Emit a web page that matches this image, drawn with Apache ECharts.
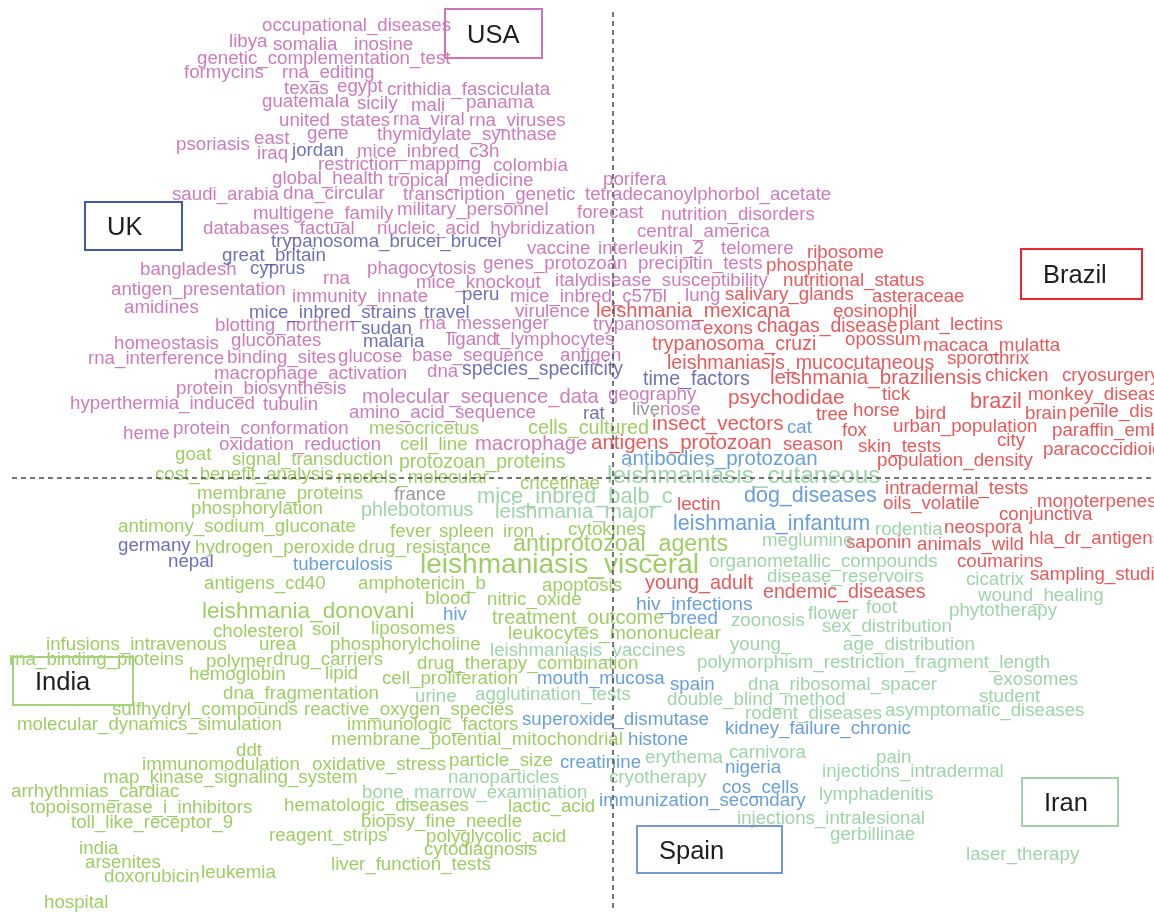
<!DOCTYPE html>
<html>
<head>
<meta charset="utf-8">
<script src="https://cdn.jsdelivr.net/npm/echarts@6/dist/echarts.min.js"></script>
<style>html,body{margin:0;padding:0;background:#fff}#c{width:1154px;height:912px}</style>
</head>
<body>
<div id="c"></div>
<script>
// ---- map space ----
const xRange = [0, 1154];
const yRange = [0, 912];

// ---- words: [term, x, y, relative weight] ----
const usaTerms = [
["occupational_diseases",262,24],["libya",229,40],["somalia",273,43],["inosine",354,43],
["genetic_complementation_test",197,57],["formycins",184,71],["rna_editing",282,71],
["texas",284,87],["egypt",337,85],["crithidia_fasciculata",387,88],["guatemala",262,100],
["sicily",357,102],["mali",411,104],["panama",466,101],["united_states",279,119],
["rna_viral",393,118],["rna_viruses",469,119],["east",254,137],["gene",307,132],
["thymidylate_synthase",377,133],["psoriasis",176,143],["iraq",257,152],["mice_inbred_c3h",357,150],
["restriction_mapping",318,163],["colombia",493,164],["global_health",272,177],
["tropical_medicine",388,179],["porifera",603,178],["saudi_arabia",172,193],["dna_circular",283,192],
["transcription_genetic",403,193],["tetradecanoylphorbol_acetate",585,193],["multigene_family",253,212],
["military_personnel",397,208],["forecast",577,211],["nutrition_disorders",661,213],
["databases_factual",203,227],["nucleic_acid_hybridization",377,227],["central_america",637,230],
["vaccine",527,247],["interleukin_2",598,247],["telomere",721,247],["bangladesh",140,268],
["rna",323,277],["phagocytosis",367,267],["genes_protozoan",483,262],["precipitin_tests",638,262],
["antigen_presentation",111,288],["immunity_innate",292,295],["mice_knockout",416,281],
["italy",555,279],["disease_susceptibility",587,279],["amidines",124,306],["mice_inbred_c57bl",510,295],
["lung",685,294],["virulence",515,310],["blotting_northern",215,324],["rna_messenger",419,322],
["trypanosoma",593,323],["homeostasis",114,342],["gluconates",231,339],["ligand",447,338],
["t_lymphocytes",495,338],["rna_interference",88,357],["binding_sites",227,356],["glucose",338,355],
["base_sequence",412,354],["antigen",560,354],["macrophage_activation",214,372],["dna",427,370],
["protein_biosynthesis",176,387],["hyperthermia_induced",70,402],["tubulin",263,403],
["molecular_sequence_data",362,396,1.08],["geography",608,393],["amino_acid_sequence",349,411],
["nose",660,408],["heme",123,432],["protein_conformation",173,427],["oxidation_reduction",219,443],
["macrophage",475,443,1.08]
];
const ukTerms = [
["jordan",292,149],["trypanosoma_brucei_brucei",271,240],["great_britain",222,254],["cyprus",250,267],
["mice_inbred_strains",249,311],["travel",424,311],["peru",462,293],["sudan",361,327],["malaria",363,340],
["species_specificity",462,368,1.04],["time_factors",643,378,1.05],["rat",583,412],
["germany",118,544],["nepal",168,560]
];
const brazilTerms = [
["ribosome",807,251],["phosphate",766,264],["nutritional_status",783,279],["salivary_glands",725,293],
["asteraceae",872,295],["leishmania_mexicana",596,310,1.08],["eosinophil",833,310],["exons",703,327],
["chagas_disease",757,325,1.04],["plant_lectins",899,323],["trypanosoma_cruzi",652,343,1.04],
["opossum",845,338],["macaca_mulatta",923,344],["leishmaniasis_mucocutaneous",667,362,1.05],
["sporothrix",947,357],["leishmania_braziliensis",770,377,1.1],["chicken",985,374],["cryosurgery",1062,374],
["psychodidae",728,397,1.11],["tick",882,393],["brazil",970,401,1.16],["monkey_diseases",1028,393],
["tree",816,413],["horse",853,409],["bird",915,412],["brain",1025,412],["penile_diseases",1069,410],
["insect_vectors",652,423,1.1],["fox",842,429],["urban_population",893,425],["paraffin_embedding",1052,429],
["antigens_protozoan",591,442,1.1],["season",783,443],["skin_tests",858,445],["city",997,439],
["paracoccidioidomycosis",1043,448],["population_density",877,459],["lectin",677,503],
["intradermal_tests",885,487],["oils_volatile",883,502],["monoterpenes",1037,500],["conjunctiva",999,513],
["neospora",944,526],["hla_dr_antigens",1029,537],["saponin",846,541],["animals_wild",917,543],
["coumarins",957,560],["young_adult",645,582,1.06],["sampling_studies",1030,573],["endemic_diseases",763,591,1.05]
];
const indiaTerms = [
["goat",175,453],["signal_transduction",232,458],["mesocricetus",369,427],["cells_cultured",528,427,1.06],
["cell_line",400,443],["protozoan_proteins",399,461,1.04],["cost_benefit_analysis",155,473],
["models_molecular",337,476],["cricetinae",520,482],["membrane_proteins",197,492],["phosphorylation",191,507],
["antimony_sodium_gluconate",118,525],["fever",390,530],["spleen",439,530],["iron",503,530],["cytokines",568,528],
["hydrogen_peroxide",195,546],["drug_resistance",358,546],["antiprotozoal_agents",513,543,1.24],
["leishmaniasis_visceral",420,564,1.5],["antigens_cd40",204,582],["amphotericin_b",358,582],
["apoptosis",542,584],["leishmania_donovani",202,610,1.21],["blood",425,597],["nitric_oxide",487,598],
["treatment_outcome",492,617,1.07],["cholesterol",213,630],["soil",312,628],["liposomes",371,627],
["leukocytes_mononuclear",508,632,1.03],["infusions_intravenous",46,643],["urea",259,643],
["phosphorylcholine",330,643],["rna_binding_proteins",9,658],["polymer",206,660],["drug_carriers",273,658],
["drug_therapy_combination",417,662],["hemoglobin",189,673],["lipid",325,672],["cell_proliferation",382,677],
["dna_fragmentation",223,692],["sulfhydryl_compounds",112,708],["reactive_oxygen_species",304,708],
["molecular_dynamics_simulation",17,723],["immunologic_factors",347,723],
["membrane_potential_mitochondrial",331,738],["ddt",236,749],["immunomodulation",142,763],
["oxidative_stress",312,763],["particle_size",449,759],["map_kinase_signaling_system",103,776],
["arrhythmias_cardiac",11,790],["topoisomerase_i_inhibitors",30,806],["hematologic_diseases",284,804],
["lactic_acid",508,805],["toll_like_receptor_9",71,821],["biopsy_fine_needle",361,820],
["reagent_strips",269,834],["polyglycolic_acid",426,835],["india",79,847],["cytodiagnosis",424,848],
["arsenites",85,861],["liver_function_tests",331,863],["doxorubicin",104,875],["leukemia",201,871],
["hospital",44,901]
];
const spainTerms = [
["cat",787,426],["antibodies_protozoan",621,458,1.1],["dog_diseases",744,495,1.15],
["leishmania_infantum",673,523,1.15],["tuberculosis",293,563],["hiv",443,613],["hiv_infections",636,603,1.03],
["breed",670,617],["mouth_mucosa",537,677],["spain",670,683],["superoxide_dismutase",522,718],
["kidney_failure_chronic",725,727],["histone",628,738],["creatinine",560,761],["nigeria",725,766],
["cos_cells",722,786],["immunization_secondary",599,799]
];
const iranTerms = [
["leishmaniasis_cutaneous",607,475,1.31],["mice_inbred_balb_c",477,495,1.17],["phlebotomus",361,509,1.05],
["leishmania_major",495,511,1.1],["meglumine",762,539],["rodentia",875,528],["organometallic_compounds",709,560],
["disease_reservoirs",767,575],["cicatrix",966,578],["wound_healing",978,594],["flower",808,612],
["foot",866,606],["phytotherapy",949,609],["zoonosis",731,619],["sex_distribution",822,625],
["young_",730,643],["age_distribution",843,643],["leishmaniasis_vaccines",490,649],
["polymorphism_restriction_fragment_length",697,661],["dna_ribosomal_spacer",748,683],["exosomes",993,678],
["urine",415,695],["agglutination_tests",475,693],["double_blind_method",667,698],["student",979,695],
["rodent_diseases",745,712],["asymptomatic_diseases",885,709],["erythema",645,756],["carnivora",729,751],
["pain",876,756],["injections_intradermal",822,770],["nanoparticles",448,776],["cryotherapy",609,776],
["bone_marrow_examination",362,791],["lymphadenitis",819,793],["injections_intralesional",737,817],
["gerbillinae",830,833],["laser_therapy",966,853]
];
const sharedTerms = [["france",394,493],["live",632,408]];

// ---- country regions: [label, x0, y0, x1, y1, group] ----
const regions = [
["USA",445,9,542,58,"usa"],["UK",85,202,182,250,"uk"],["Brazil",1021,249,1142,299,"brazil"],
["India",13,657,133,705,"india"],["Spain",637,826,782,873,"spain"],["Iran",1022,778,1118,826,"iran"]
];

// ---- quadrant dividers ----
const verticalDivider = [[613,12],[613,912]];
const horizontalDivider = [[12,478],[1154,478]];

// ---- styles ----
const textColors = {usa:"#c05aab", uk:"#4a4ea4", brazil:"#e62e30", india:"#84c23c", spain:"#4287d3", iran:"#86c994", shared:"#808080"};
const boxColors = {usa:"#cf73b8", uk:"#3f5aab", brazil:"#e8262b", india:"#a5d37c", spain:"#7898d4", iran:"#9dd3a7"};
const FONT = "'Liberation Sans', Arial, Helvetica, sans-serif";
const BASE = 18.7;

function termSeries(terms, key){
  return {
    type:'scatter', name:key, silent:true, symbolSize:0, z:2,
    data: terms.map(t => ({name:t[0], value:[t[1], t[2]], label:{fontSize: BASE*(t[3]||1)}})),
    label:{show:true, position:'right', distance:0, offset:[0,1.5], formatter:'{b}', color:textColors[key],
           fontFamily:FONT, fontSize:BASE, align:'left', verticalAlign:'middle'}
  };
}

const chart = echarts.init(document.getElementById('c'), null, {renderer:'canvas'});
chart.setOption({
  animation:false,
  backgroundColor:'#ffffff',
  grid:{left:0, right:0, top:0, bottom:0},
  xAxis:{type:'value', min:xRange[0], max:xRange[1], show:false},
  yAxis:{type:'value', min:yRange[0], max:yRange[1], inverse:true, show:false},
  series:[
    termSeries(usaTerms,'usa'),
    termSeries(ukTerms,'uk'),
    termSeries(brazilTerms,'brazil'),
    termSeries(indiaTerms,'india'),
    termSeries(spainTerms,'spain'),
    termSeries(iranTerms,'iran'),
    termSeries(sharedTerms,'shared'),
    {type:'line', data:verticalDivider, symbol:'none', silent:true, z:3,
     lineStyle:{color:'#4a4a4a', width:1.5, type:[5,4]}},
    {type:'line', data:horizontalDivider, symbol:'none', silent:true, z:3,
     lineStyle:{color:'#4a4a4a', width:1.5, type:[5,4]}},
    {type:'custom', silent:true, z:4,
     data: regions.map(r => [r[1], r[2], r[3], r[4]]),
     renderItem:function(params, api){
       const r = regions[params.dataIndex];
       const p0 = api.coord([api.value(0), api.value(1)]);
       const p1 = api.coord([api.value(2), api.value(3)]);
       return {type:'group', children:[
         {type:'rect', shape:{x:p0[0], y:p0[1], width:p1[0]-p0[0], height:p1[1]-p0[1]},
          style:{fill:null, stroke:boxColors[r[5]], lineWidth:2}},
         {type:'text', style:{x:p0[0]+22, y:(p0[1]+p1[1])/2+2, text:r[0], fill:'#1e1e1e',
          fontSize:25.5, fontFamily:FONT, verticalAlign:'middle', align:'left'}}
       ]};
     }}
  ]
});
</script>
</body>
</html>
